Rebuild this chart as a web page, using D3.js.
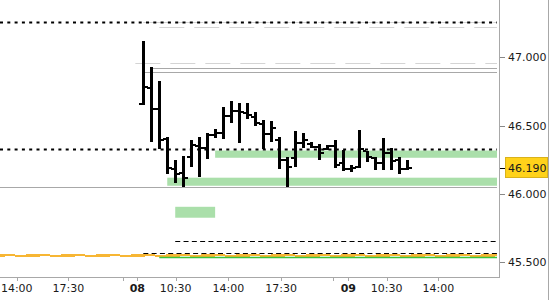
<!DOCTYPE html>
<html lang="en">
<head>
    <meta charset="UTF-8">
    <title>Intraday bars</title>
    <script src="https://cdn.jsdelivr.net/npm/d3@7"></script>
    <style>
        body { margin: 0; background: #fff; }
        svg text { font-family: "DejaVu Sans", sans-serif; font-size: 11px; fill: #1a1a1a; }
    </style>
</head>
<body>
<svg id="chart" width="550" height="300"></svg>
<script>
// OHLC per bar slot (slot 0 = first bar of day 08)
const barOpen  = [46.657, 46.777, 46.622, 46.400, 46.180, 46.151, 46.272, 46.353, 46.334, 46.431,
                  46.444, 46.570, 46.609, 46.594, 46.561, 46.510, 46.436, 46.395, 46.245, 46.263,
                  46.373, 46.365, 46.345, 46.330, 46.350, 46.230, 46.180, 46.200, 46.314, 46.260,
                  46.230, 46.300, 46.250, 46.180];
const barHigh  = [47.119, 46.927, 46.827, 46.414, 46.248, 46.277, 46.395, 46.414, 46.444, 46.473,
                  46.634, 46.682, 46.668, 46.668, 46.602, 46.541, 46.536, 46.419, 46.272, 46.463,
                  46.444, 46.382, 46.363, 46.358, 46.395, 46.321, 46.212, 46.468, 46.314, 46.272,
                  46.407, 46.334, 46.272, 46.248];
const barLow   = [46.650, 46.382, 46.329, 46.143, 46.078, 46.053, 46.199, 46.126, 46.256, 46.407,
                  46.400, 46.521, 46.375, 46.546, 46.497, 46.327, 46.382, 46.182, 46.053, 46.199,
                  46.334, 46.334, 46.248, 46.321, 46.192, 46.168, 46.158, 46.192, 46.236, 46.175,
                  46.175, 46.175, 46.143, 46.175];
const barClose = [46.785, 46.622, 46.395, 46.187, 46.146, 46.116, 46.358, 46.334, 46.431, 46.444,
                  46.570, 46.609, 46.600, 46.578, 46.517, 46.436, 46.482, 46.248, 46.200, 46.373,
                  46.395, 46.345, 46.300, 46.350, 46.210, 46.180, 46.190, 46.330, 46.270, 46.230,
                  46.300, 46.240, 46.180, 46.190];

const lastPrice = 46.19;
const priceTicks = [45.5, 46.0, 46.5, 47.0];

// time axis, positions in bar slots
const timeTicks = [
    { slot: -15.86, label: "14:00" }, { slot: -9.4, label: "17:30" },
    { slot: -0.75, label: "08", day: true }, { slot: 4.06, label: "10:30" },
    { slot: 10.65, label: "14:00" }, { slot: 17.26, label: "17:30" },
    { slot: 25.69, label: "09", day: true }, { slot: 30.5, label: "10:30" },
    { slot: 36.97, label: "14:00" }
];
const minorTicks = [-2.54, 23.77];

// horizontal levels: price, first slot, kind
const levelLines = [
    { price: 47.260, from: 0, kind: "faint" },
    { price: 47.260, from: -18, kind: "dotted" },
    { price: 47.224, from: 2, kind: "faint" },
    { price: 46.956, from: -1, kind: "faint" },
    { price: 46.919, from: 1, kind: "gray" },
    { price: 46.890, from: 0, kind: "gray" },
    { price: 46.327, from: -18, kind: "dotted" },
    { price: 46.053, from: -18, kind: "gray" },
    { price: 45.655, from: 4, kind: "dashed" },
    { price: 45.565, from: 0, kind: "dashed" },
    { price: 45.536, from: 2, kind: "green" }
];
const zones = [
    { top: 46.318, bottom: 46.265, from: 9, to: null },
    { top: 46.119, bottom: 46.060, from: 3, to: null },
    { top: 45.906, bottom: 45.826, from: 4, to: 9 }
];
const orangeLevel = 45.548;

const svg = d3.select("#chart");
const plotW = 500, plotH = 277;

const x = d3.scaleLinear().domain([-17.96, 44.7]).range([0, plotW]);
const y = d3.scaleLinear().domain([45.392, 47.42]).range([plotH, 0]);
const lineEnd = plotW - 3;

const lineStyle = {
    dotted: { stroke: "#000", width: 2, dash: "3,4.3" },
    faint:  { stroke: "#d4d4d4", width: 1, dash: "25,10" },
    gray:   { stroke: "#a8a8a8", width: 1, dash: null },
    dashed: { stroke: "#000", width: 1, dash: "5,3.3" },
    green:  { stroke: "#3cc43c", width: 1.5, dash: null }
};

// zones
svg.append("g").selectAll("rect")
    .data(zones)
    .enter()
    .append("rect")
    .attr("x", d => x(d.from))
    .attr("width", d => (d.to === null ? lineEnd : x(d.to)) - x(d.from))
    .attr("y", d => y(d.top))
    .attr("height", d => y(d.bottom) - y(d.top))
    .attr("fill", "#aadfaa");

// orange level: thick line with alternating thin parts
let oy = Math.floor(y(orangeLevel)) + 0.5;
let og = svg.append("g");
og.append("line").attr("x1", 0).attr("x2", lineEnd).attr("y1", oy).attr("y2", oy)
    .attr("stroke", "#f7b634").attr("stroke-width", 3);
og.append("line").attr("x1", 0).attr("x2", lineEnd).attr("y1", oy + 1).attr("y2", oy + 1)
    .attr("stroke", "#fff").attr("stroke-width", 1)
    .attr("stroke-dasharray", "10,25").attr("stroke-dashoffset", -5);
og.append("line").attr("x1", 0).attr("x2", lineEnd).attr("y1", oy - 1).attr("y2", oy - 1)
    .attr("stroke", "#fff").attr("stroke-width", 1)
    .attr("stroke-dasharray", "11,24").attr("stroke-dashoffset", -15);

// level lines
svg.append("g").selectAll("line")
    .data(levelLines)
    .enter()
    .append("line")
    .attr("x1", d => Math.max(0, x(d.from)))
    .attr("x2", lineEnd)
    .attr("y1", d => Math.round(y(d.price)) + 0.5)
    .attr("y2", d => Math.round(y(d.price)) + 0.5)
    .attr("stroke", d => lineStyle[d.kind].stroke)
    .attr("stroke-width", d => lineStyle[d.kind].width)
    .attr("stroke-dasharray", d => lineStyle[d.kind].dash);

// OHLC bars
let bars = barOpen.map((o, i) => ({ i: i, o: o, h: barHigh[i], l: barLow[i], c: barClose[i] }));
let bg = svg.append("g").attr("shape-rendering", "crispEdges");
let bar = bg.selectAll("g").data(bars).enter().append("g");
bar.append("rect")
    .attr("x", d => Math.round(x(d.i)) - 1.5)
    .attr("width", 3)
    .attr("y", d => y(d.h))
    .attr("height", d => y(d.l) - y(d.h));
bar.append("rect")
    .attr("x", d => Math.round(x(d.i)) - 4.5)
    .attr("width", 3)
    .attr("y", d => y(d.o) - 1)
    .attr("height", 2);
bar.append("rect")
    .attr("x", d => Math.round(x(d.i)) + 1.5)
    .attr("width", 3)
    .attr("y", d => y(d.c) - 1)
    .attr("height", 2);

// frame
svg.append("line").attr("x1", 0).attr("x2", plotW).attr("y1", plotH + 0.5).attr("y2", plotH + 0.5)
    .attr("stroke", "#a8a8a8");
svg.append("line").attr("x1", plotW - 0.5).attr("x2", plotW - 0.5).attr("y1", 0).attr("y2", plotH)
    .attr("stroke", "#a8a8a8");
svg.append("line").attr("x1", 548.5).attr("x2", 548.5).attr("y1", 0).attr("y2", 300)
    .attr("stroke", "#a8a8a8");

// price axis
let ya = svg.append("g");
ya.selectAll("line").data(priceTicks).enter().append("line")
    .attr("x1", plotW).attr("x2", plotW + 5)
    .attr("y1", d => Math.round(y(d)) + 0.5).attr("y2", d => Math.round(y(d)) + 0.5)
    .attr("stroke", "#888");
ya.selectAll("text").data(priceTicks).enter().append("text")
    .attr("x", plotW + 8)
    .attr("y", d => y(d))
    .attr("dy", "0.36em")
    .text(d => d3.format(".3f")(d));

// last price marker
let ly = y(lastPrice);
svg.append("line").attr("x1", plotW).attr("x2", plotW + 5)
    .attr("y1", Math.round(ly) + 0.5).attr("y2", Math.round(ly) + 0.5).attr("stroke", "#000");
svg.append("rect").attr("x", 505.5).attr("y", Math.round(ly) - 10.5)
    .attr("width", 42).attr("height", 20)
    .attr("fill", "#ffd21a").attr("stroke", "#d9b21c");
svg.append("text").attr("x", plotW + 8).attr("y", ly).attr("dy", "0.36em")
    .text(d3.format(".3f")(lastPrice));

// time axis
let xa = svg.append("g");
xa.selectAll("line.major").data(timeTicks).enter().append("line")
    .attr("class", "major")
    .attr("x1", d => Math.round(x(d.slot)) + 0.5).attr("x2", d => Math.round(x(d.slot)) + 0.5)
    .attr("y1", plotH).attr("y2", plotH + 4)
    .attr("stroke", "#a8a8a8");
xa.selectAll("line.minor").data(minorTicks).enter().append("line")
    .attr("class", "minor")
    .attr("x1", d => Math.round(x(d)) + 0.5).attr("x2", d => Math.round(x(d)) + 0.5)
    .attr("y1", plotH).attr("y2", plotH + 4)
    .attr("stroke", "#a8a8a8");
xa.selectAll("text").data(timeTicks).enter().append("text")
    .attr("x", d => x(d.slot))
    .attr("y", 292)
    .attr("text-anchor", "middle")
    .style("font-weight", d => d.day ? "bold" : "normal")
    .text(d => d.label);
</script>
</body>
</html>
